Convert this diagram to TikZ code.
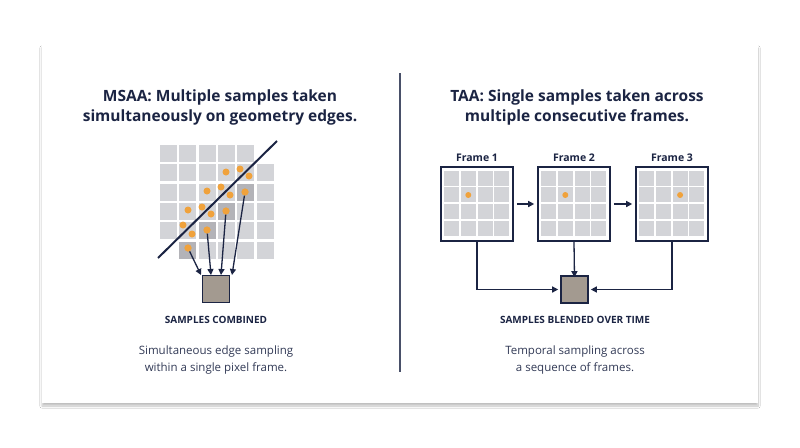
\documentclass[tikz,border=0pt]{standalone}
\usepackage{fontspec}
\setmainfont{Open Sans}
\usetikzlibrary{arrows.meta,shadows.blur}
\definecolor{navy}{HTML}{1B2443}
\definecolor{cell}{HTML}{D3D4D8}
\definecolor{dcell}{HTML}{B3B3B8}
\definecolor{res}{HTML}{A39A90}
\definecolor{dot}{HTML}{F0A23C}
\tikzset{x=1pt,y=-1pt,
  arr/.style={navy,line width=1.3pt,-{Triangle[length=6pt,width=6pt]}},
  title/.style={font=\bfseries\fontsize{15.5}{20}\selectfont,text=navy,align=center},
  lab/.style={font=\bfseries\fontsize{10}{11}\selectfont,text=navy},
  desc/.style={font=\fontsize{11.5}{17}\selectfont,text=navy!90,align=center},
  sdot/.style={circle,fill=dot,inner sep=0pt,minimum size=7pt},
  resbox/.style={draw=navy,line width=1.6pt,fill=res,minimum size=27pt,inner sep=0pt},
  fbox/.style={draw=navy,line width=1.6pt,fill=white,minimum width=72pt,minimum height=74pt,inner sep=0pt}}
\begin{document}
\begin{tikzpicture}
\useasboundingbox (0,0) rectangle (800,447);
\fill[white] (0,0) rectangle (800,447);
\node[fill=white,blur shadow={shadow blur steps=10,shadow xshift=0pt,shadow yshift=-3pt,shadow opacity=25},minimum width=716pt,minimum height=358pt,inner sep=0pt] (card) at (400,224) {};
\draw[navy!80,line width=1.2pt] (400,73) -- (400,372);
% titles
\node[title] (t1) at (220,107) {MSAA: Multiple samples taken\\simultaneously on geometry edges.};
\node[title] (t2) at (577,107) {TAA: Single samples taken across\\multiple consecutive frames.};
% MSAA grid
\foreach \r in {0,...,5}{\foreach \c in {0,...,5}{
  \pgfmathsetmacro\xx{160+19.3*\c}\pgfmathsetmacro\yy{145+19.3*\r}
  \ifnum\r\c=5 \else\ifnum\r\c=50 \else
  \fill[cell] (\xx,\yy) rectangle ++(17,17);\fi\fi}}
\foreach \r/\c in {2/4,3/3,4/2,5/1}{\fill[dcell] (160+19.3*\c,145+19.3*\r) rectangle ++(17,17);}
\foreach \p/\q in {226/172,240/169,249/176,207/191,221/187,230/195,245/192,188/210,202/207,211/214,226/211,183/225,192/234,207/230,188/248}
  \node[sdot] at (\p,\q) {};
\node[sdot] (d1) at (188,248) {};
\node[sdot] (d2) at (207,230) {};
\node[sdot] (d3) at (226,211) {};
\node[sdot] (d4) at (245,192) {};
\draw[navy,line width=2pt] (158,258) -- (277,141);
\node[resbox] (r1) at (216,289) {};
\coordinate (e1) at (201,275);\coordinate (e2) at (211,275);\coordinate (e3) at (221,275);\coordinate (e4) at (232,275);
\draw[arr] (d1) -- (e1);\draw[arr] (d2) -- (e2);\draw[arr] (d3) -- (e3);\draw[arr] (d4) -- (e4);
\node[lab] (l1) at (216,320) {SAMPLES COMBINED};
\node[desc] (s1) at (216,360) {Simultaneous edge sampling\\within a single pixel frame.};
% TAA frames
\foreach \n/\xc/\dc in {1/477/1,2/574/1,3/672/2}{
  \node[fbox] (f\n) at (\xc,204) {};
  \foreach \r in {0,...,3}{\foreach \c in {0,...,3}{
    \fill[cell] (\xc-33+16.8*\c,167+3.5+16.8*\r) rectangle ++(15,15);}}
  \node[sdot,minimum size=6pt] at (\xc-33+16.8*\dc+7.5,195) {};
  \node[font=\bfseries\fontsize{10.5}{12}\selectfont,text=navy] (fl\n) at (\xc,158) {Frame \n};
}
\draw[arr] ([xshift=3pt]f1.east) -- ([xshift=-3pt]f2.west);
\draw[arr] ([xshift=3pt]f2.east) -- ([xshift=-3pt]f3.west);
\node[resbox] (r2) at (574.5,289.5) {};
\draw[arr] (f1.south) |- ([xshift=-2pt]r2.west);
\draw[arr] (f2.south) -- ([yshift=-2pt]r2.north);
\draw[arr] (f3.south) |- ([xshift=2pt]r2.east);
\node[lab] (l2) at (575,320) {SAMPLES BLENDED OVER TIME};
\node[desc] (s2) at (575,360) {Temporal sampling across\\a sequence of frames.};
\end{tikzpicture}
\end{document}
